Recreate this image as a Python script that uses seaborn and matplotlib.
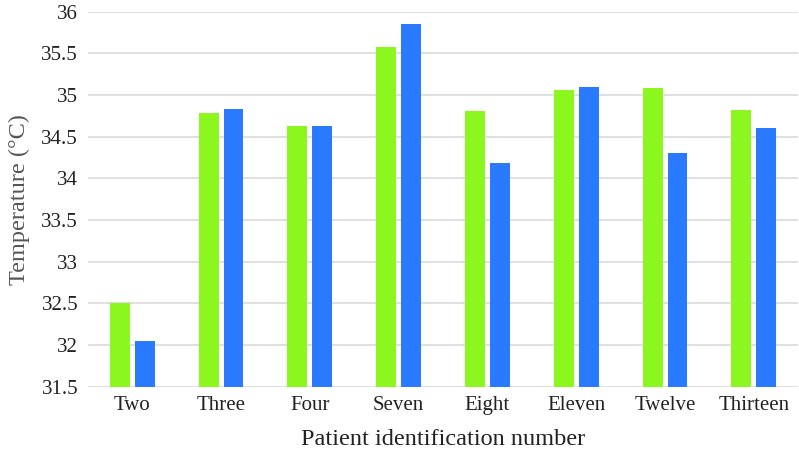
import pandas as pd
import matplotlib.pyplot as plt
import seaborn as sns
from matplotlib.ticker import FuncFormatter, MultipleLocator

# Patients and the two temperature readings per patient (°C)
patients = ['Two', 'Three', 'Four', 'Seven', 'Eight', 'Eleven', 'Twelve', 'Thirteen']
temp_first = [32.50, 34.79, 34.63, 35.58, 34.81, 35.06, 35.08, 34.82]
temp_second = [32.05, 34.83, 34.63, 35.85, 34.19, 35.10, 34.31, 34.61]
series_names = ['First', 'Second']
colors = ['#8CF71F', '#2A7AFF']

df = pd.DataFrame({'patient': patients * 2,
                   'temp': temp_first + temp_second,
                   'series': [series_names[0]] * len(patients) + [series_names[1]] * len(patients)})

sns.set_theme(style='white')
plt.rcParams['font.family'] = ['Liberation Serif', 'DejaVu Serif']

fig, ax = plt.subplots(figsize=(7.99, 4.55), dpi=100)
fig.subplots_adjust(left=0.110, right=0.999, top=0.974, bottom=0.150)

sns.barplot(data=df, x='patient', y='temp', hue='series', palette=colors,
            width=0.56, gap=0.2, saturation=1, legend=False, ax=ax, zorder=3,
            edgecolor='none')

ax.set_ylim(31.5, 36)
ax.yaxis.set_major_locator(MultipleLocator(0.5))
ax.yaxis.set_major_formatter(FuncFormatter(lambda v, p: f'{v:g}'))
ax.grid(axis='y', color='#e0e0e0', linewidth=1.4, zorder=0)
ax.set_axisbelow(True)
for s in ax.spines.values():
    s.set_visible(False)
ax.tick_params(axis='both', length=0, labelsize=15, labelcolor='#222222')
ax.tick_params(axis='y', pad=7)
ax.tick_params(axis='x', pad=7)

ax.set_xlabel('Patient identification number', fontsize=17.5, color='#222222', labelpad=10)
ax.set_ylabel('Temperature (°C)', fontsize=17.5, color='#555555', labelpad=8)

plt.savefig('out.png', dpi=100, facecolor='white')
